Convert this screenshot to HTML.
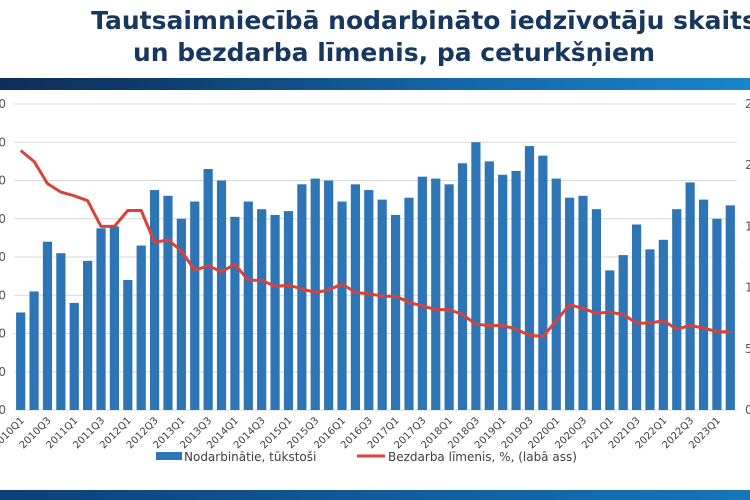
<!DOCTYPE html>
<html><head><meta charset="utf-8"><style>
html,body{margin:0;padding:0;background:#fff;}
body{width:750px;height:500px;overflow:hidden;position:relative;font-family:"DejaVu Sans","Liberation Sans",sans-serif;}
.title{position:absolute;left:-206px;width:1200px;text-align:center;font-weight:bold;font-size:25px;color:#17375e;white-space:nowrap;font-family:"DejaVu Sans","Liberation Sans",sans-serif;}
</style></head><body>
<div class="title" style="top:6px;left:-176px;">Tautsaimniecībā nodarbināto iedzīvotāju skaits</div>
<div class="title" style="top:38px;">un bezdarba līmenis, pa ceturkšņiem</div>
<div style="position:absolute;left:0;top:78px;width:750px;height:12px;background:linear-gradient(to right,#0d2f57 0%,#0d3a6a 18%,#1466a5 60%,#1a84c8 100%);"></div>
<div style="position:absolute;left:0;top:490px;width:750px;height:10px;background:linear-gradient(to right,#0d3f78,#1775b8);"></div>
<svg id="chart" width="750" height="500" style="position:absolute;left:0;top:0;" xmlns="http://www.w3.org/2000/svg"></svg>
<script>
const categories=["2010Q1","2010Q2","2010Q3","2010Q4","2011Q1","2011Q2","2011Q3","2011Q4","2012Q1","2012Q2","2012Q3","2012Q4","2013Q1","2013Q2","2013Q3","2013Q4","2014Q1","2014Q2","2014Q3","2014Q4","2015Q1","2015Q2","2015Q3","2015Q4","2016Q1","2016Q2","2016Q3","2016Q4","2017Q1","2017Q2","2017Q3","2017Q4","2018Q1","2018Q2","2018Q3","2018Q4","2019Q1","2019Q2","2019Q3","2019Q4","2020Q1","2020Q2","2020Q3","2020Q4","2021Q1","2021Q2","2021Q3","2021Q4","2022Q1","2022Q2","2022Q3","2022Q4","2023Q1","2023Q2"];
const employed=[811,822,848,842,816,838,855,856,828,846,875,872,860,869,886,880,861,869,865,862,864,878,881,880,869,878,875,870,862,871,882,881,878,889,900,890,883,885,898,893,881,871,872,865,833,841,857,844,849,865,879,870,860,867];
const unemployment=[21.2,20.3,18.5,17.8,17.5,17.1,15.0,15.0,16.3,16.3,13.7,13.9,13.0,11.4,11.8,11.3,11.9,10.6,10.6,10.1,10.2,9.9,9.6,9.8,10.3,9.6,9.5,9.3,9.3,8.8,8.5,8.2,8.2,7.8,7.0,6.9,6.9,6.6,6.1,6.0,7.3,8.6,8.3,7.9,8.0,7.8,7.1,7.1,7.3,6.6,6.9,6.7,6.4,6.4];
const leftTicks=[760,780,800,820,840,860,880,900,920];
const rightTicks=[0,5,10,15,20,25];
const NS="http://www.w3.org/2000/svg";
const svg=document.getElementById('chart');
const plotTop=104,plotBot=410,plotL=14,plotR=737;
const yL=v=>plotBot-(v-760)/(920-760)*(plotBot-plotTop);
const yR=v=>plotBot-v/25*(plotBot-plotTop);
const step=(plotR-plotL)/categories.length;
const xC=i=>plotL+step*(i+0.5);
function mk(tag,attrs){const e=document.createElementNS(NS,tag);for(const k in attrs)e.setAttribute(k,attrs[k]);svg.appendChild(e);return e;}
leftTicks.forEach((t,i)=>{
  const g=mk('line',{x1:plotL,x2:plotR,y1:yL(t),y2:yL(t),stroke:'#d9d9d9','stroke-width':1});
  
  
  const tx=mk('text',{x:6,y:yL(t)+4,'text-anchor':'end','font-size':12,fill:'#595959'});
  tx.textContent=t;
  
  
});
rightTicks.forEach(t=>{
  const tx=mk('text',{x:745,y:yR(t)+4,'text-anchor':'start','font-size':12,fill:'#595959'});
  tx.textContent=t;
  
  
});
employed.forEach((v,i)=>{
  const b=mk('rect',{x:xC(i)-4.6,y:yL(v),width:9.2,height:plotBot-yL(v),fill:'#2e75b6'});
  
  
});
const pts=unemployment.map((v,i)=>xC(i).toFixed(1)+','+yR(v).toFixed(1)).join(' ');
const pl=mk('polyline',{points:pts,fill:'none',stroke:'#d9413a','stroke-width':3,'stroke-linejoin':'round'});


categories.forEach((c,i)=>{
  if(i%2)return;
  const x=xC(i)+4,y=plotBot+11;
  const tx=mk('text',{x:x,y:y,'text-anchor':'end','font-size':10,fill:'#404040',transform:'rotate(-45 '+x+' '+y+')'});
  tx.textContent=c;
  
  
});
const lm=mk('rect',{x:156,y:452,width:26,height:8,fill:'#2e75b6'});


const lt=mk('text',{x:184,y:461,'font-size':12,fill:'#404040'});
lt.textContent='Nodarbinātie, tūkstoši';


const ll=mk('line',{x1:357,x2:385,y1:456,y2:456,stroke:'#d9413a','stroke-width':3});


const lt2=mk('text',{x:388,y:461,'font-size':12,fill:'#404040'});
lt2.textContent='Bezdarba līmenis, %, (labā ass)';


</script>
</body></html>
